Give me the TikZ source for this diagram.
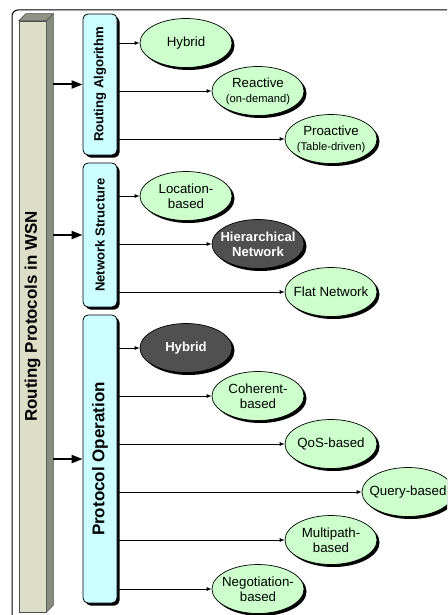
\documentclass[tikz,border=0pt]{standalone}
\usepackage{fontspec}
\setmainfont{Liberation Sans}
\usetikzlibrary{shapes.geometric,arrows.meta,shadows}

\definecolor{barfront}{HTML}{DCDEC8}
\definecolor{barside}{HTML}{888C7E}
\definecolor{bartop}{HTML}{8E9184}
\definecolor{boxcyan}{HTML}{CCFFFF}
\definecolor{leafgreen}{HTML}{CCFFCC}
\definecolor{leafdark}{HTML}{505050}
\newcommand{\subtxt}[1]{{\fontsize{11.2}{13}\selectfont #1}}

\begin{document}
\begin{tikzpicture}[x=1pt,y=-1pt,
  shadowed/.style={drop shadow={shadow xshift=2.5pt, shadow yshift=-2.5pt, opacity=1, fill=black}},
  catbox/.style={draw=black, line width=0.8pt, fill=boxcyan, rounded corners=5pt,
    minimum width=34pt, inner sep=0pt, shadowed},
  catlabel/.style={rotate=90, inner sep=0pt, font=\bfseries\fontsize{13.1}{15}\selectfont},
  leaf/.style={ellipse, draw=black, line width=0.7pt, fill=leafgreen,
    minimum width=92pt, minimum height=49pt, inner xsep=-15pt, inner ysep=-10pt,
    align=center, font=\fontsize{13.3}{15}\selectfont, shadowed},
  darkleaf/.style={leaf, fill=leafdark, text=white, font=\bfseries\fontsize{13.1}{15}\selectfont},
  bigarrow/.style={line width=2pt, -{Triangle[length=11pt,width=8pt]}},
  thinarrow/.style={line width=0.8pt, -{Latex[length=5pt,width=4pt]}},
]
\useasboundingbox (0,0) rectangle (447,615);
\clip (0,0) rectangle (447,615);

% outer frame
\draw[line width=1pt, rounded corners=6pt] (12,650) -- (12,10) -- (480,10);

% main prism bar
\node[fill=barfront, draw=black!70, line width=0.5pt, minimum width=27pt, minimum height=591pt, inner sep=0pt] (bar) at (32.5,316.5) {};
\filldraw[fill=barside, draw=black!70, line width=0.5pt] (bar.north east) -- ++(7,-7) -- ([shift={(7pt,7pt)}]bar.south east) -- (bar.south east) -- cycle;
\filldraw[fill=bartop, draw=black!70, line width=0.5pt] (bar.north west) -- ++(7,-7) -- ([shift={(7pt,7pt)}]bar.north east) -- (bar.north east) -- cycle;
\node[rotate=90, inner sep=0pt, font=\bfseries\fontsize{16.9}{18}\selectfont] (barlbl) at (bar.center) {Routing Protocols in WSN};
\coordinate (barrim) at ([xshift=7pt]bar.east);

% category boxes
\node[catbox, minimum height=141pt] (ra) at (100,84.5) {};
\node[catlabel] (ralbl) at (ra.center) {Routing Algorithm};
\node[catbox, minimum height=144pt] (ns) at (100,235) {};
\node[catlabel] (nslbl) at (ns.center) {Network Structure};
\node[catbox, minimum height=288pt] (po) at (100,459) {};
\node[catlabel, font=\bfseries\fontsize{17}{19}\selectfont] (polbl) at (po.center) {Protocol Operation};

\draw[bigarrow] (barrim |- ra.west) -- (ra.west);
\draw[bigarrow] (barrim |- ns.west) -- (ns.west);
\draw[bigarrow] (barrim |- po.west) -- (po.west);

% routing algorithm
\node[leaf] (hyb1) at (186,43) {Hybrid};
\node[leaf] (reac) at (258,91) {Reactive\\\subtxt{(on-demand)}};
\node[leaf] (proa) at (331,139) {Proactive\\\subtxt{(Table-driven)}};

% network structure
\node[leaf] (loc) at (186,196) {Location-\\based};
\node[darkleaf] (hier) at (258,244) {Hierarchical\\Network};
\node[leaf] (flat) at (331,292) {Flat Network};

% protocol operation
\node[darkleaf] (hyb2) at (186,348) {Hybrid};
\node[leaf] (coh) at (258,396) {Coherent-\\based};
\node[leaf] (qos) at (331,444) {QoS-based};
\node[leaf] (query) at (408,492) {Query-based};
\node[leaf] (multi) at (331,540) {Multipath-\\based};
\node[leaf] (nego) at (258,589) {Negotiation-\\based};

\foreach \n in {hyb1,reac,proa}
  \draw[thinarrow] (ra.east |- \n.west) -- (\n.west);
\foreach \n in {loc,hier,flat}
  \draw[thinarrow] (ns.east |- \n.west) -- (\n.west);
\foreach \n in {hyb2,coh,qos,query,multi,nego}
  \draw[thinarrow] (po.east |- \n.west) -- (\n.west);
\end{tikzpicture}
\end{document}
